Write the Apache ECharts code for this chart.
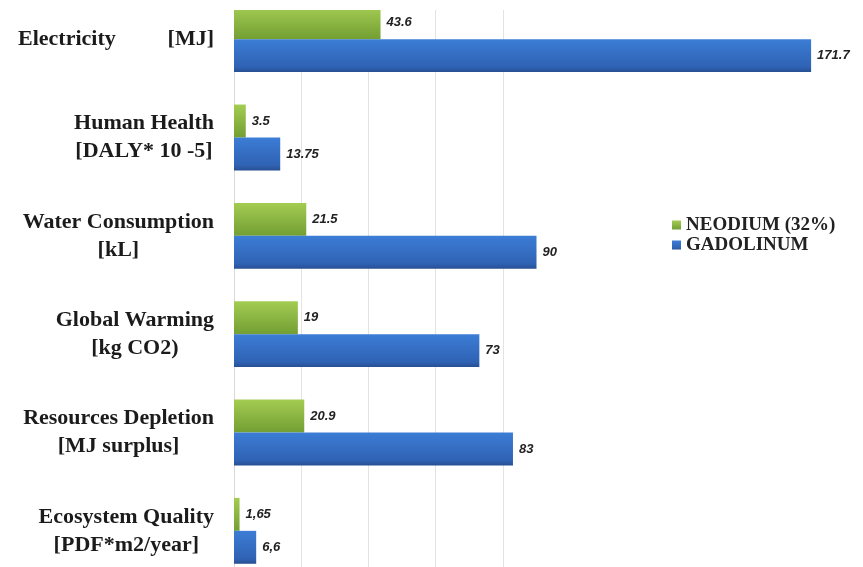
<!DOCTYPE html>
<html>
<head>
<meta charset="utf-8">
<script src="https://cdn.jsdelivr.net/npm/echarts@6/dist/echarts.min.js"></script>
<style>
  html, body { margin: 0; padding: 0; background: #fff; overflow: hidden; }
  #wrap { position: absolute; left: 0; top: 10px; width: 863px; height: 557px; overflow: hidden; }
  #main { position: absolute; left: 0; top: -20px; width: 863px; height: 590px; }
</style>
</head>
<body>
<div id="wrap"><div id="main"></div></div>
<script>
// categories, top to bottom
var categories = [
    'Electricity|[MJ]',
    'Human Health\n[DALY* 10 -5]',
    'Water Consumption\n[kL]',
    'Global Warming\n[kg CO2)',
    'Resources Depletion\n[MJ surplus]',
    'Ecosystem Quality\n[PDF*m2/year]'
];
var seriesNames = ['NEODIUM (32%)', 'GADOLINUM'];
var neodium = [43.6, 3.5, 21.5, 19, 20.9, 1.65];
var gadolinum = [171.7, 13.75, 90, 73, 83, 6.6];
var neodiumLabels = ['43.6', '3.5', '21.5', '19', '20.9', '1,65'];
var gadolinumLabels = ['171.7', '13.75', '90', '73', '83', '6,6'];
var xTicks = [0, 20, 40, 60, 80, 100, 120, 140, 160, 180];

var labelFont = 'bold 22px "Liberation Serif"';
var ctx = document.createElement('canvas').getContext('2d');
ctx.font = labelFont;

// one rich style per category so the lines are centred on the widest one
var rich = {};
categories.forEach(function (c, i) {
    var w = 0;
    c.split(/\n|\|/).forEach(function (l) {
        w = Math.max(w, ctx.measureText(l).width);
    });
    rich['t' + i] = {
        width: w, align: 'center', fontSize: 22, fontWeight: 'bold',
        fontFamily: 'Liberation Serif', color: '#1b1b1b', lineHeight: 28
    };
});
rich.l = {fontSize: 22, fontWeight: 'bold', fontFamily: 'Liberation Serif', color: '#1b1b1b', lineHeight: 28};
var elecParts = categories[0].split('|');
rich.sp = {
    width: 196 - ctx.measureText(elecParts[0]).width - ctx.measureText(elecParts[1]).width,
    height: 28
};

var chart = echarts.init(document.getElementById('main'));

var option = {
    animation: false,
    backgroundColor: '#fff',
    grid: {left: 234, right: 24, top: 0, bottom: 0, containLabel: false},
    legend: {
        orient: 'vertical',
        left: 667,
        top: 220,
        icon: 'rect',
        itemWidth: 9,
        itemHeight: 9,
        itemGap: 0,
        textStyle: {
            fontFamily: 'Liberation Serif', fontWeight: 'bold', fontSize: 19,
            color: '#222', lineHeight: 20
        },
        data: seriesNames
    },
    xAxis: {
        type: 'value',
        min: 0,
        max: 180,
        interval: 20,
        axisLine: {show: false},
        axisTick: {show: false},
        axisLabel: {show: false},
        splitLine: {
            show: true,
            lineStyle: {
                color: xTicks.map(function (t) { return t <= 80 ? '#e3e3e3' : 'rgba(0,0,0,0)'; }),
                width: 1
            }
        }
    },
    yAxis: {
        type: 'category',
        inverse: true,
        data: categories,
        axisLine: {show: true, lineStyle: {color: '#d9d9d9'}},
        axisTick: {show: false},
        axisLabel: {
            margin: 20,
            align: 'right',
            formatter: function (value, idx) {
                if (value.indexOf('|') >= 0) {
                    var p = value.split('|');
                    return '{l|' + p[0] + '}{sp|}{l|' + p[1] + '}';
                }
                return value.split('\n').map(function (l) {
                    return '{t' + idx + '|' + l + '}';
                }).join('\n');
            },
            rich: rich
        }
    },
    series: [
        {
            name: seriesNames[0],
            type: 'bar',
            barGap: '0%',
            barCategoryGap: '33%',
            data: neodium,
            itemStyle: {
                color: new echarts.graphic.LinearGradient(0, 0, 0, 1, [
                    {offset: 0, color: '#a3cc52'},
                    {offset: 1, color: '#739f33'}
                ])
            },
            label: {
                show: true,
                position: 'right',
                distance: 6,
                fontFamily: 'Liberation Sans',
                fontStyle: 'italic',
                fontWeight: 'bold',
                fontSize: 13,
                color: '#222',
                formatter: function (p) { return neodiumLabels[p.dataIndex]; }
            }
        },
        {
            name: seriesNames[1],
            type: 'bar',
            barGap: '0%',
            barCategoryGap: '33%',
            data: gadolinum,
            itemStyle: {
                color: new echarts.graphic.LinearGradient(0, 0, 0, 1, [
                    {offset: 0, color: '#3c7dd6'},
                    {offset: 0.85, color: '#2f62b3'},
                    {offset: 1, color: '#274f92'}
                ])
            },
            label: {
                show: true,
                position: 'right',
                distance: 6,
                fontFamily: 'Liberation Sans',
                fontStyle: 'italic',
                fontWeight: 'bold',
                fontSize: 13,
                color: '#222',
                formatter: function (p) { return gadolinumLabels[p.dataIndex]; }
            }
        }
    ]
};

chart.setOption(option);
</script>
</body>
</html>
